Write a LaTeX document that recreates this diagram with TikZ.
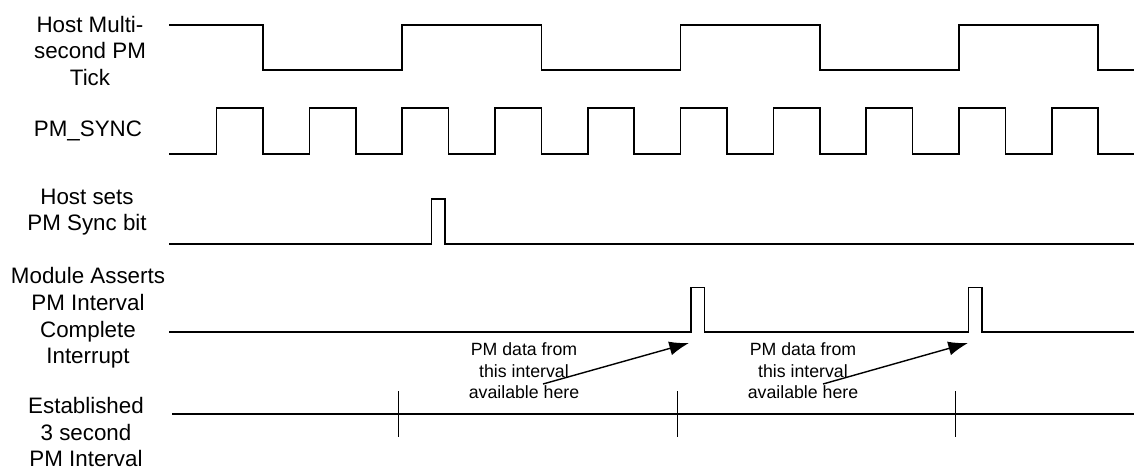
\documentclass[tikz,border=0pt]{standalone}
\usepackage{fontspec}
\setmainfont{Liberation Sans}
\usetikzlibrary{arrows.meta}

\begin{document}
\begin{tikzpicture}[x=0.025cm, y=-0.025cm,
		w/.style = {line width=1.1pt, line join=miter},
		l/.style = {align=center, inner sep=0pt, font=\fontsize{15.9}{18.9}\selectfont},
		t/.style = {align=center, inner sep=0pt, font=\fontsize{12.6}{15.4}\selectfont},
		r/.style = {-{Latex[length=14pt, width=10pt]}, line width=1pt}
		]
		\useasboundingbox (0,0) rectangle (1134,470);
		
		%Nodes
		\node[l]	(lbltick)	at	(90, 51)	{Host Multi-\\second PM\\Tick};
		\node[l]	(lblsync)	at	(88, 131)	{PM\_SYNC};
		\node[l]	(lblbit)	at	(87, 212)	{Host sets\\PM Sync bit};
		\node[l]	(lblirq)	at	(88, 318)	{Module Asserts\\PM Interval\\Complete\\Interrupt};
		\node[l]	(lblint)	at	(86, 432)	{Established\\3 second\\PM Interval};
		\node[t]	(note1)		at	(524, 371)	{PM data from\\this interval\\available here};
		\node[t]	(note2)		at	(803, 371)	{PM data from\\this interval\\available here};
		\coordinate	(src1)	at	(543, 384);
		\coordinate	(src2)	at	(823, 384);
		\coordinate	(irq1)	at	(689, 343);
		\coordinate	(irq2)	at	(968, 343);
		
		%Waves
		\draw[w]	(169, 25) foreach \m in {0, 2, 4} {
			-- ({263+139.2*\m}, 25) -- ({263+139.2*\m}, 70)
			-- ({263+139.2*(\m+1)}, 70) -- ({263+139.2*(\m+1)}, 25)}
			-- (1098.2, 25) -- (1098.2, 70) -- (1134, 70);
		\draw[w]	(169, 154) foreach \k in {0, ..., 9} {
			-- ({216.6+92.8*\k}, 154) -- ++(0, -46) -- ++(46.4, 0) -- ++(0, 46)}
			-- (1134, 154);
		\draw[w]	(169, 244) -- (431.7, 244) -- ++(0, -45) -- ++(13.3, 0) -- ++(0, 45) -- (1134, 244);
		\draw[w]	(169, 332) -- (691, 332) -- ++(0, -44.5) -- ++(13.3, 0) -- ++(0, 44.5)
			-- (968.3, 332) -- ++(0, -44.5) -- ++(13.7, 0) -- ++(0, 44.5) -- (1134, 332);
		\draw[w]	(172, 414) -- (1134, 414);
		\foreach \x in {398.3, 677.7, 955.3}
			\draw[w]	(\x, 391) -- (\x, 437);
		
		%Lines
		\draw[r]	(src1)	--	(irq1);
		\draw[r]	(src2)	--	(irq2);
	\end{tikzpicture}
\end{document}
